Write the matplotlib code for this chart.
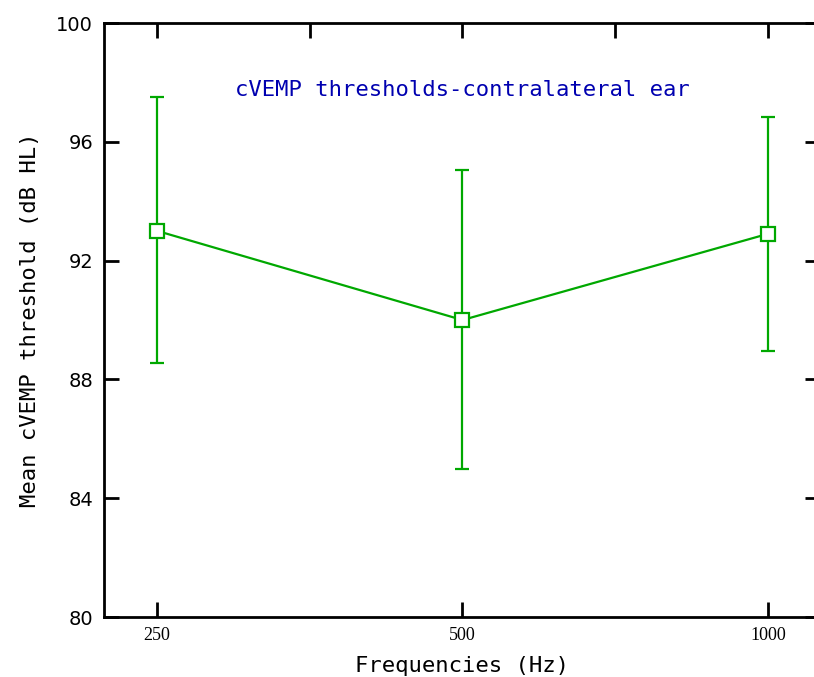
"""
Mean cVEMP thresholds for the contralateral ear, with error bars
"""
import matplotlib
matplotlib.use("Agg")
import matplotlib.pyplot as plt
from matplotlib.ticker import FixedLocator

# data
frequencies = ["250", "500", "1000"]
mean_threshold = [93.0, 90.0, 92.9]
upper_bound = [97.5, 95.05, 96.85]
lower_bound = [88.55, 85.0, 88.95]
y_ticks = [80, 84, 88, 92, 96, 100]

if __name__ == "__main__":
    positions = list(range(len(frequencies)))
    err_low = [m - lo for m, lo in zip(mean_threshold, lower_bound)]
    err_high = [hi - m for m, hi in zip(mean_threshold, upper_bound)]

    fig = plt.figure(figsize=(8.14, 6.77), dpi=100)
    # right spine sits just outside the picture in the original
    ax = fig.add_axes([0.128, 0.0886, 0.879, 0.8774])

    green = "#00a800"
    ax.errorbar(positions, mean_threshold, yerr=[err_low, err_high],
                color=green, lw=1.6, marker="s", markersize=10,
                markerfacecolor="white", markeredgecolor=green,
                markeredgewidth=1.6, capsize=5, capthick=1.6,
                elinewidth=1.6)

    ax.set_xlim(-0.1735, 2.170)
    ax.set_ylim(80, 100)

    ax.set_xticks(positions)
    ax.set_xticklabels(frequencies, family="Liberation Serif", fontsize=13)
    ax.xaxis.set_minor_locator(FixedLocator([0.5, 1.5]))
    ax.set_yticks(y_ticks)
    ax.set_yticklabels([str(v) for v in y_ticks], fontsize=14)

    for side in ax.spines.values():
        side.set_linewidth(2)
    ax.tick_params(which="major", direction="in", length=11, width=2,
                   top=True, right=True)
    ax.tick_params(which="minor", direction="in", length=11, width=2,
                   bottom=False, top=True)
    ax.tick_params(axis="x", pad=7)
    ax.tick_params(axis="y", pad=8)

    lab_font = "DejaVu Sans Mono"
    ax.set_xlabel("Frequencies (Hz)", family=lab_font, fontsize=16,
                  labelpad=9)
    ax.set_ylabel("Mean cVEMP threshold (dB HL)", family=lab_font,
                  fontsize=16, labelpad=12)

    ax.text(1, 97.75, "cVEMP thresholds-contralateral ear",
            ha="center", va="center", family=lab_font,
            color="#0000b0", fontsize=16)

    fig.savefig("out.png", dpi=100)
